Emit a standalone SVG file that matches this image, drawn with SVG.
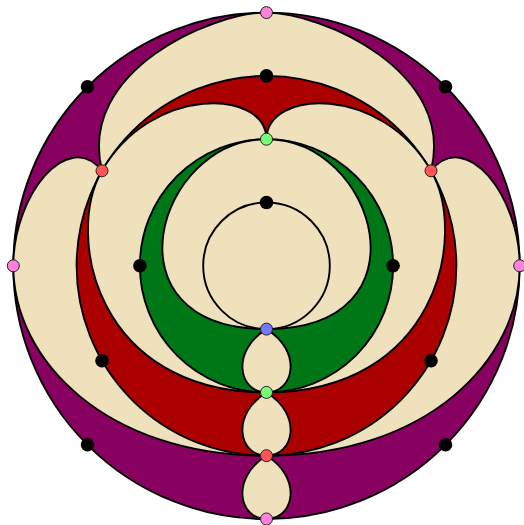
<svg xmlns="http://www.w3.org/2000/svg" width="524" height="525" viewBox="0 0 524 525">
<style>
.ln{stroke:#000;stroke-width:1.9;stroke-linejoin:round}
.pu{fill:#880060}.rd{fill:#AA0000}.gr{fill:#007716}.cr{fill:#EEE1BC}
.blk{fill:#000}
.v{stroke:#222;stroke-width:1}
.pk{fill:#FF80DD}.rv{fill:#FF5555}.gv{fill:#77FF77}.bv{fill:#7777FF}
</style>
<rect width="524" height="525" fill="#fff"/>
<g transform="translate(266.5,265.8)">
<g id="bands">
<circle id="ring1" class="ln pu" r="253.2"/>
<path id="cream1" class="ln cr" d="M0,-253.2 C-54.6,-253.2 -189.5,-195 -164.5,-95 C-199.2,-137.9 -253.2,-70 -253.2,0 C-253.2,95 -160,189.9 0,189.9 C-36,212 -28,253.2 0,253.2 C28,253.2 36,212 0,189.9 C160,189.9 253.2,95 253.2,0 C253.2,-70 199.2,-137.9 164.5,-95 C189.5,-195 54.6,-253.2 0,-253.2 Z"/>
<circle id="ring2" class="ln rd" r="189.9"/>
<path id="cream2" class="ln cr" d="M-164.5,-95 C-114.5,-181.6 0,-176.6 0,-126.6 C0,-176.6 114.5,-181.6 164.5,-95 C202,-30 170,126.6 0,126.6 C36,148.7 28,189.9 0,189.9 C-28,189.9 -36,148.7 0,126.6 C-170,126.6 -202,-30 -164.5,-95 Z"/>
<circle id="ring3" class="ln gr" r="126.6"/>
<path id="cream3" class="ln cr" d="M0,-126.6 C-110,-126.6 -165,63.3 0,63.3 C-36,85.4 -28,126.6 0,126.6 C28,126.6 36,85.4 0,63.3 C165,63.3 110,-126.6 0,-126.6 Z"/>
<circle id="ring4" class="ln cr" r="63.3"/>
</g>
<g id="black-dots" class="blk">
<circle cx="-179" cy="-179" r="6.8"/><circle cx="179" cy="-179" r="6.8"/>
<circle cx="-179" cy="179" r="6.8"/><circle cx="179" cy="179" r="6.8"/>
<circle cx="0" cy="-189.9" r="6.8"/><circle cx="-164.5" cy="95" r="6.8"/><circle cx="164.5" cy="95" r="6.8"/>
<circle cx="-126.6" cy="0" r="6.8"/><circle cx="126.6" cy="0" r="6.8"/>
<circle cx="0" cy="-63.3" r="6.8"/>
</g>
<g id="pink-dots" class="v pk">
<circle cx="0" cy="-253.2" r="6"/><circle cx="-253.2" cy="0" r="6"/><circle cx="253.2" cy="0" r="6"/><circle cx="0" cy="253.2" r="6"/>
</g>
<g id="red-dots" class="v rv">
<circle cx="-164.5" cy="-95" r="6"/><circle cx="164.5" cy="-95" r="6"/><circle cx="0" cy="189.9" r="6"/>
</g>
<g id="green-dots" class="v gv">
<circle cx="0" cy="-126.6" r="6"/><circle cx="0" cy="126.6" r="6"/>
</g>
<g id="blue-dot" class="v bv">
<circle cx="0" cy="63.3" r="6"/>
</g>
</g>
</svg>
